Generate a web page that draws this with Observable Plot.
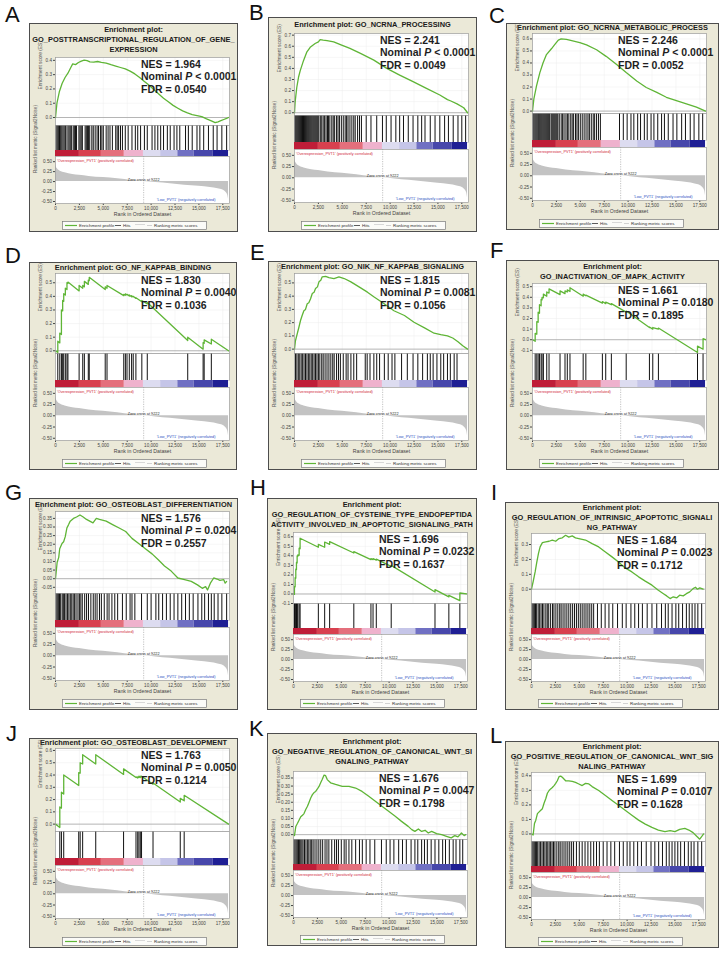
<!DOCTYPE html>
<html>
<head>
<meta charset="utf-8">
<script src="https://cdn.jsdelivr.net/npm/d3@7"></script>
<script src="https://cdn.jsdelivr.net/npm/@observablehq/plot@0.6"></script>
<style>
html,body{margin:0;padding:0;background:#fff;}
#root{position:relative;width:724px;height:956px;overflow:hidden;font-family:"Liberation Sans",Arial,Helvetica,sans-serif;}
.letter{position:absolute;font-size:22px;line-height:22px;color:#111;}
.panel{position:absolute;background:#ebe9d8;overflow:hidden;}
.panel .edge{position:absolute;left:0;top:0;right:0;bottom:0;border:1.3px solid #4d4d4d;pointer-events:none;z-index:5;}
.panel .title{position:absolute;left:0;right:0;top:0;font-weight:bold;font-size:7.4px;line-height:10px;color:#1a1a1a;}
.panel .title div{display:flex;justify-content:center;white-space:nowrap;}
.panel svg{overflow:visible;}
.stats{position:absolute;font-weight:bold;font-size:10.5px;line-height:12.7px;color:#1e1e1e;white-space:nowrap;z-index:3;}
</style>
</head>
<body>
<div id="root"></div>
<script>
// ---------------- DATA ----------------
const panelLetters = ["A","B","C","D","E","F","G","H","I","J","K","L"];
const panelTitles = [
  ["Enrichment plot:","GO_POSTTRANSCRIPTIONAL_REGULATION_OF_GENE_","EXPRESSION"],
  ["Enrichment plot: GO_NCRNA_PROCESSING"],
  ["Enrichment plot: GO_NCRNA_METABOLIC_PROCESS"],
  ["Enrichment plot: GO_NF_KAPPAB_BINDING"],
  ["Enrichment plot: GO_NIK_NF_KAPPAB_SIGNALING"],
  ["Enrichment plot:","GO_INACTIVATION_OF_MAPK_ACTIVITY"],
  ["Enrichment plot: GO_OSTEOBLAST_DIFFERENTIATION"],
  ["Enrichment plot:","GO_REGULATION_OF_CYSTEINE_TYPE_ENDOPEPTIDA","ACTIVITY_INVOLVED_IN_APOPTOTIC_SIGNALING_PATH"],
  ["Enrichment plot:","GO_REGULATION_OF_INTRINSIC_APOPTOTIC_SIGNALI","NG_PATHWAY"],
  ["Enrichment plot: GO_OSTEOBLAST_DEVELOPMENT"],
  ["Enrichment plot:","GO_NEGATIVE_REGULATION_OF_CANONICAL_WNT_SI","GNALING_PATHWAY"],
  ["Enrichment plot:","GO_POSITIVE_REGULATION_OF_CANONICAL_WNT_SIG","NALING_PATHWAY"]
];
const nesValues = ["1.964","2.241","2.246","1.830","1.815","1.661","1.576","1.696","1.684","1.763","1.676","1.699"];
const nomPValues = ["< 0.0001","< 0.0001","< 0.0001","= 0.0040","= 0.0081","= 0.0180","= 0.0204","= 0.0232","= 0.0023","= 0.0050","= 0.0047","= 0.0107"];
const fdrValues = ["0.0540","0.0049","0.0052","0.1036","0.1056","0.1895","0.2557","0.1637","0.1712","0.1214","0.1798","0.1628"];

const esTicks = [
  [0,0.1,0.2,0.3,0.4],
  [0,0.1,0.2,0.3,0.4,0.5,0.6,0.7],
  [0,0.1,0.2,0.3,0.4,0.5,0.6],
  [0,0.1,0.2,0.3,0.4,0.5],
  [0,0.1,0.2,0.3,0.4,0.5],
  [-0.1,0,0.1,0.2,0.3,0.4,0.5],
  [-0.05,0,0.05,0.1,0.15,0.2,0.25,0.3,0.35],
  [-0.1,0,0.1,0.2,0.3,0.4,0.5,0.6],
  [0,0.1,0.2,0.3],
  [0,0.1,0.2,0.3,0.4,0.5,0.6],
  [0,0.05,0.1,0.15,0.2,0.25,0.3,0.35],
  [0,0.1,0.2,0.3,0.4]
];
const esTickDecimals = [1,1,1,1,1,1,2,1,1,1,2,1];

const xTicks = [0,2500,5000,7500,10000,12500,15000,17500];
const metricTicks = [-0.5,-0.25,0,0.25,0.5];
const zeroCross = 9222;
const posLabel = "'Overexpression_PVT1' (positively correlated)";
const negLabel = "'Low_PVT1' (negatively correlated)";
const metricRank  = [0,60,200,500,1000,1800,2500,3500,5000,6500,8000,9222,10500,12000,13500,15000,16200,17000,17500,17800,18000,18100];
const metricValue = [0.45,0.38,0.32,0.26,0.22,0.18,0.16,0.13,0.10,0.07,0.03,0,-0.025,-0.055,-0.09,-0.12,-0.15,-0.18,-0.21,-0.26,-0.33,-0.45];
const barStart = [0,2500,4800,7200,9200,11000,12800,14500,16500];
const barEnd   = [2500,4800,7200,9200,11000,12800,14500,16500,18100];
const barColor = ["#bf1d38","#d8404f","#e46f7c","#efb2cd","#dddcf0","#c5c5e8","#7070c3","#4747ab","#1f1f94"];
const legendItems = ["Enrichment profile","Hits","Ranking metric scores"];

// running enrichment score, [rank, ES]
const esA = [[0,0],[150,0.10],[400,0.18],[700,0.24],[1000,0.28],[1300,0.31],[1600,0.35],[1800,0.375],[2100,0.37],[2400,0.385],[2700,0.395],[3000,0.402],[3300,0.398],[3600,0.39],[4000,0.387],[4400,0.392],[4800,0.386],[5300,0.381],[5800,0.37],[6300,0.36],[6800,0.35],[7300,0.34],[7800,0.325],[8300,0.305],[8800,0.28],[9300,0.252],[9800,0.225],[10300,0.195],[10800,0.165],[11300,0.135],[11800,0.11],[12300,0.085],[12800,0.065],[13300,0.046],[13800,0.032],[14300,0.02],[14800,0.013],[15300,0.006],[15800,-0.01],[16300,-0.024],[16700,-0.036],[17000,-0.03],[17300,-0.022],[17600,-0.014],[17900,-0.006],[18100,0]];
const esB = [[0,0],[70,0.10],[240,0.23],[420,0.32],[600,0.38],[940,0.47],[1300,0.55],[1640,0.59],[2160,0.625],[2500,0.64],[2680,0.66],[3000,0.655],[3400,0.65],[4100,0.64],[4800,0.615],[5800,0.58],[6900,0.535],[8300,0.475],[9650,0.40],[11000,0.34],[12400,0.28],[13800,0.22],[15200,0.16],[16000,0.118],[16300,0.108],[17000,0.08],[17700,0.045],[18100,0]];
const esC = [[0,0],[140,0.10],[420,0.21],[770,0.32],[1100,0.40],[1460,0.47],[2000,0.52],[2300,0.55],[2700,0.59],[3000,0.60],[3550,0.597],[4100,0.586],[4950,0.57],[5650,0.55],[6700,0.51],[7700,0.455],[8800,0.387],[9800,0.32],[10900,0.25],[11900,0.196],[13000,0.155],[14000,0.115],[15050,0.087],[16100,0.06],[17150,0.033],[18100,0]];
const esD = [[0,0],[240,-0.013],[240,0.07],[450,0.058],[450,0.13],[620,0.12],[620,0.30],[750,0.293],[750,0.37],[860,0.364],[860,0.42],[1030,0.41],[1030,0.46],[1200,0.45],[1200,0.50],[1300,0.495],[1300,0.505],[2470,0.44],[2470,0.48],[2850,0.46],[2850,0.48],[3020,0.47],[3020,0.51],[3430,0.488],[3430,0.52],[3530,0.515],[3530,0.54],[5200,0.45],[5200,0.47],[5390,0.46],[5390,0.48],[7140,0.405],[7140,0.415],[7310,0.408],[7310,0.418],[7480,0.41],[7480,0.415],[7720,0.402],[7720,0.41],[7960,0.397],[7960,0.405],[8130,0.396],[8130,0.40],[8410,0.385],[8410,0.39],[9030,0.36],[9030,0.37],[9600,0.345],[9600,0.355],[13830,0.075],[13830,0.10],[15440,0.012],[15440,0.06],[15550,0.055],[15550,0.08],[16300,0.05],[16300,0.085],[18100,0]];
const esE = [[0,0],[100,0.063],[280,0.114],[460,0.165],[630,0.216],[800,0.254],[980,0.29],[1150,0.30],[1330,0.343],[1500,0.35],[1680,0.38],[1860,0.42],[2050,0.43],[2200,0.457],[2400,0.47],[2560,0.508],[2750,0.52],[2900,0.546],[3260,0.55],[3600,0.54],[4130,0.533],[4650,0.546],[5200,0.533],[5900,0.508],[6750,0.47],[7630,0.43],[8330,0.393],[9380,0.343],[10400,0.29],[11500,0.254],[12500,0.203],[13600,0.16],[14600,0.12],[15300,0.109],[16000,0.10],[16550,0.084],[17100,0.056],[17600,0.025],[18100,0]];
const esF = [[0,0],[280,-0.015],[280,0.06],[450,0.052],[450,0.17],[590,0.165],[590,0.26],[730,0.25],[730,0.33],[900,0.32],[900,0.38],[1000,0.375],[1000,0.40],[1140,0.395],[1140,0.43],[1490,0.41],[1490,0.45],[1730,0.44],[1730,0.48],[2880,0.425],[2880,0.46],[3400,0.435],[3400,0.46],[3640,0.45],[3640,0.47],[3920,0.455],[3920,0.49],[5300,0.41],[5300,0.43],[5580,0.415],[5580,0.42],[7310,0.345],[7310,0.36],[7660,0.34],[7660,0.355],[8250,0.33],[8250,0.34],[9800,0.26],[9800,0.27],[12230,0.115],[12230,0.12],[12580,0.10],[12580,0.115],[13170,0.10],[13170,0.11],[17260,-0.12],[17260,-0.06],[17840,-0.09],[17840,0.01],[18100,0]];
const esG = [[0,0],[170,0.094],[340,0.124],[440,0.174],[680,0.204],[850,0.214],[1020,0.244],[1190,0.294],[1370,0.314],[1540,0.334],[1880,0.35],[2200,0.358],[2560,0.37],[2900,0.358],[3240,0.344],[3580,0.334],[3920,0.324],[4270,0.35],[4600,0.344],[5300,0.334],[5970,0.314],[6660,0.294],[7340,0.274],[8000,0.234],[8700,0.204],[9400,0.174],[10100,0.144],[10750,0.11],[11400,0.074],[12100,0.044],[12800,0.004],[13500,-0.006],[14200,-0.016],[14850,-0.036],[15350,-0.056],[15700,-0.046],[15900,-0.066],[16200,-0.026],[16550,0.004],[16900,-0.002],[17200,-0.01],[17600,-0.006],[17750,-0.026],[17900,-0.016]];
const esH = [[0,0],[100,-0.005],[100,0.08],[170,0.075],[170,0.17],[240,0.165],[240,0.26],[310,0.255],[310,0.33],[380,0.325],[380,0.40],[450,0.395],[450,0.41],[590,0.405],[590,0.48],[690,0.475],[690,0.585],[2600,0.49],[2600,0.52],[3260,0.49],[3260,0.545],[3780,0.52],[3780,0.55],[6310,0.43],[6310,0.445],[8100,0.36],[8100,0.37],[8320,0.36],[8320,0.37],[8660,0.355],[8660,0.365],[10220,0.29],[10220,0.30],[14800,0.02],[14800,0.045],[16250,-0.03],[16250,-0.015],[17400,-0.07],[17400,0.01],[18100,0]];
const esI = [[0,0],[170,0.05],[380,0.116],[550,0.18],[730,0.24],[900,0.284],[1140,0.313],[1490,0.318],[1840,0.322],[2180,0.33],[2530,0.322],[2880,0.34],[3220,0.345],[3570,0.362],[3900,0.35],[4260,0.358],[4600,0.345],[4950,0.34],[5650,0.33],[6340,0.306],[7030,0.284],[7730,0.25],[8420,0.217],[9100,0.183],[9800,0.143],[10500,0.116],[11200,0.083],[11900,0.054],[12600,0.027],[13270,-0.007],[13800,-0.03],[14140,-0.045],[14500,-0.063],[14830,-0.051],[15200,-0.058],[15500,-0.04],[15870,-0.045],[16200,-0.03],[16550,-0.018],[16900,0.004],[17150,0.013],[17350,0],[17600,0.009],[17950,0]];
const esJ = [[0,0],[450,-0.027],[450,0.14],[620,0.13],[620,0.26],[860,0.245],[860,0.40],[2430,0.315],[2430,0.42],[2580,0.415],[2580,0.50],[2840,0.49],[2840,0.565],[4210,0.49],[4210,0.565],[7120,0.405],[7120,0.45],[8420,0.38],[8420,0.385],[8600,0.375],[8600,0.385],[8730,0.38],[8730,0.39],[8870,0.38],[8870,0.39],[9000,0.385],[9000,0.39],[10200,0.325],[10200,0.335],[13050,0.18],[13050,0.21],[13460,0.19],[13460,0.235],[18100,0]];
const esK = [[0,0],[100,-0.006],[240,0.05],[420,0.07],[590,0.09],[760,0.11],[940,0.12],[1100,0.13],[1280,0.155],[1460,0.175],[1630,0.2],[1800,0.226],[1980,0.247],[2150,0.26],[2320,0.267],[2500,0.282],[2670,0.298],[2840,0.32],[3000,0.34],[3200,0.368],[3360,0.364],[3530,0.34],[3880,0.32],[4400,0.31],[5100,0.298],[5800,0.298],[6500,0.288],[7170,0.267],[7870,0.237],[8560,0.206],[9250,0.175],[9950,0.144],[10640,0.113],[11300,0.082],[12000,0.051],[12370,0.031],[12700,0.02],[13060,0.035],[13400,0.02],[13760,0.027],[14100,0.01],[14450,0.02],[14970,0.006],[15500,0],[16000,-0.01],[16500,-0.02],[16870,-0.006],[17200,-0.014],[17570,0.01],[17850,-0.006],[18000,0]];
const esL = [[0,0],[170,-0.007],[310,0.072],[450,0.095],[620,0.14],[800,0.152],[970,0.163],[1140,0.174],[1320,0.213],[1490,0.242],[1660,0.28],[1840,0.299],[2000,0.31],[2180,0.32],[2360,0.333],[2530,0.348],[2700,0.366],[2880,0.394],[3050,0.398],[3220,0.39],[3570,0.366],[3900,0.366],[4260,0.362],[4600,0.355],[4950,0.344],[5300,0.333],[5650,0.348],[6000,0.344],[6340,0.326],[7030,0.299],[7730,0.265],[8420,0.23],[9100,0.197],[9800,0.163],[10500,0.129],[11200,0.095],[11900,0.068],[12600,0.045],[13270,0.027],[13960,0.016],[14500,0.023],[15000,0.016],[15500,0.032],[16040,0.038],[16460,0.027],[16900,0.009],[17250,-0.014],[17600,-0.036],[17850,-0.014],[18000,0]];

// hit positions (rank of each gene-set member)
const hitsA = [60,180,300,420,540,660,780,900,1020,1100,1300,1420,1540,1660,1850,1970,2090,2200,2450,2570,2690,2810,3100,3220,3340,3460,3580,3800,3950,4150,4350,4500,4700,4850,5000,5300,5500,5700,5950,6300,6450,6600,6800,7000,7300,7600,8000,8350,8600,8900,9300,9600,10100,10400,10700,11000,11300,11700,12000,12400,12700,13000,13600,13900,14300,14800,15100,15500,16000,16500,16900,17400,17900];
const hitsB = [40,140,240,340,440,540,640,740,840,940,1040,1140,1240,1340,1440,1540,1640,1740,1840,1940,2040,2140,2240,2340,2440,2540,2700,2850,3000,3150,3300,3450,3550,3700,3900,4050,4200,4400,4550,4700,4900,5100,5300,5450,5600,5800,6000,6200,6350,6600,6800,7000,7500,8000,8600,9200,9600,10100,10600,11000,11400,11900,12400,12900,13300,13650,14200,14700,15200,15700,16100,16600,17100,17500,17900];
const hitsC = [50,160,270,380,490,600,700,800,900,1000,1100,1200,1300,1400,1500,1600,1700,1800,1950,2050,2150,2250,2350,2450,2550,2650,2800,3000,3150,3300,3500,3650,3800,4000,4150,4300,4500,4650,4800,5000,5200,5400,5600,5800,5950,6150,6350,6500,6700,6900,7100,9100,9500,9900,10300,10600,11000,11300,11700,12000,12400,12700,13100,13500,13800,14200,14700,15100,15600,16000,16500,16900,17400,17800];
const hitsD = [240,450,620,750,860,1030,1200,1300,2470,2850,3020,3430,3530,5200,5390,7140,7310,7480,7720,7960,8130,8410,9030,9600,13830,15440,15550,16300];
const hitsE = [100,250,400,550,700,850,1000,1150,1300,1450,1600,1750,1900,2050,2200,2350,2500,2650,2850,3000,3200,3400,3600,3800,4000,4150,4400,4600,4800,5100,5400,5600,5900,6200,6500,7400,7600,7900,8300,8600,8900,9400,9800,10200,10500,11200,11800,12400,12900,13400,13900,14200,14500,14900,15300,15600,16000,16300,16700,17000];
const hitsF = [280,450,590,730,900,1000,1140,1490,1730,2880,3400,3640,3920,5300,5580,7310,7660,8250,9800,12230,12580,13170,17260,17840];
const hitsG = [60,180,300,420,540,700,820,950,1100,1250,1400,1550,1700,1850,2000,2150,2350,2500,2650,2800,3050,3250,3450,3700,3950,4150,4350,4600,4800,5100,5400,5600,5900,6200,6500,7000,7400,7800,8000,8300,9000,9600,10000,10500,10800,11200,11600,12000,12400,12800,13200,13600,14000,14400,14900,15300,15600,16000,16300,16600,17000,17400,17900];
const hitsH = [100,170,240,310,380,450,590,690,2600,3260,3780,6310,8100,8320,8660,10220,14800,16250,17400];
const hitsI = [60,180,300,420,540,700,850,1000,1150,1300,1500,1650,1800,2000,2200,2350,2550,2750,2950,3100,3300,3500,3700,3900,4100,4300,4500,4700,4900,5100,5300,5500,5700,5900,6100,6300,6500,6900,7300,7700,8100,8500,9000,9500,9900,10400,10800,11200,11600,12100,12600,13100,13600,14000,14300,14700,15100,15400,15800,16200,16500,16800,17100,17400,17800];
const hitsJ = [450,620,860,2430,2580,2840,4210,7120,8420,8600,8730,8870,9000,10200,13050,13460];
const hitsK = [40,160,280,400,520,640,760,880,1000,1150,1300,1450,1600,1750,1900,2050,2250,2450,2650,2850,3050,3300,3500,3700,4000,4300,4500,4700,5000,5300,5500,5800,6100,6500,6900,7200,7600,8000,8500,9200,9700,10100,10500,11000,11400,11800,12300,12700,13000,13400,13700,14000,14400,14800,15200,15600,15900,16300,16700,17000,17400,17700];
const hitsL = [50,170,290,410,530,650,800,950,1100,1250,1400,1550,1700,1850,2000,2150,2300,2450,2650,2850,3000,3200,3400,3600,3800,4000,4200,4400,4700,5000,5300,5600,5900,6200,6500,6800,7100,7500,7900,8300,8700,9200,9600,10000,10300,10700,11100,11500,12000,12500,12900,13300,13700,14100,14400,14700,15000,15300,15600,16000,16400,16700,17000,17400,17800];

const esSeries = [esA,esB,esC,esD,esE,esF,esG,esH,esI,esJ,esK,esL];
const hitSeries = [hitsA,hitsB,hitsC,hitsD,hitsE,hitsF,hitsG,hitsH,hitsI,hitsJ,hitsK,hitsL];

// ---------------- LAYOUT (positions / scale domains) ----------------
const layout = [
  {x:29,y:23,w:209,h:209,esTop:34,t:3,dom:[-0.056,0.42]},
  {x:268,y:17,w:209,h:215,esTop:16,t:1,dom:[-0.025,0.715]},
  {x:506,y:23,w:213,h:207,esTop:10,t:1,dom:[-0.02,0.645]},
  {x:29,y:262,w:208,h:208,esTop:11,t:1,dom:[-0.02,0.568]},
  {x:268,y:261,w:209,h:209,esTop:12,t:1,dom:[-0.033,0.571]},
  {x:506,y:260,w:213,h:210,esTop:23,t:1,dom:[-0.13,0.53]},
  {x:29,y:498,w:209,h:212,esTop:13,t:1,dom:[-0.086,0.39]},
  {x:267,y:498,w:210,h:212,esTop:34,t:3,dom:[-0.1,0.645]},
  {x:505,y:502,w:214,h:208,esTop:31,t:3,dom:[-0.096,0.374]},
  {x:29,y:738,w:209,h:210,esTop:10,t:1,dom:[-0.06,0.616]},
  {x:267,y:733,w:210,h:213,esTop:38,t:3,dom:[-0.03,0.39]},
  {x:505,y:741,w:214,h:207,esTop:31,t:3,dom:[-0.052,0.423]}
];
const letterPos = [[5,4],[249,2],[489,5],[5,245],[250,242],[490,240],[5,482],[250,477],[491,482],[6,723],[249,718],[490,725]];
const tpl = {1:{esOff:117,hitsH:27,barH:7,metricH:53}, 3:{esOff:107,hitsH:25,barH:6,metricH:47}};
const XDOM = [0,18200];
const ML = 26, FRAME_RIGHT = 200;
const font = "'Liberation Sans', Arial, Helvetica, sans-serif";

// ---------------- RENDER ----------------
const root = document.getElementById("root");
const metricData = metricRank.map((r,i)=>({rank:r, value:metricValue[i]}));
const barData = barStart.map((s,i)=>({start:s, end:barEnd[i], color:barColor[i]}));

function place(el, left, top){ el.style.position="absolute"; el.style.left=left+"px"; el.style.top=top+"px"; return el; }

panelLetters.forEach((letter,i)=>{
  const L = layout[i], T = tpl[L.t];
  const lab = document.createElement("div"); lab.className="letter"; lab.textContent=letter;
  place(lab, letterPos[i][0], letterPos[i][1]); root.appendChild(lab);

  const panel = document.createElement("div"); panel.className="panel";
  place(panel, L.x, L.y); panel.style.width=L.w+"px"; panel.style.height=L.h+"px";
  root.appendChild(panel);

  // title
  const title = document.createElement("div"); title.className="title";
  title.style.paddingTop = Math.max(0,(L.esTop - panelTitles[i].length*10)/2) + "px";
  panelTitles[i].forEach(line=>{ const d=document.createElement("div"); const s=document.createElement("span"); s.textContent=line; d.appendChild(s); title.appendChild(d); });
  panel.appendChild(title);

  const mr = L.w - FRAME_RIGHT;
  const style = {background:"none", fontSize:"4.6px", fontFamily:font, color:"#444", overflow:"visible"};
  const dec = esTickDecimals[i];

  // ES plot
  const esBottom = L.h - T.esOff;
  const esH = esBottom - L.esTop;
  const es = Plot.plot({
    width:L.w, height:esH, marginLeft:ML, marginRight:mr, marginTop:0, marginBottom:0, style,
    x:{domain:XDOM, axis:null},
    y:{domain:L.dom, ticks:esTicks[i], tickFormat:d=>d.toFixed(dec), tickSize:2, tickPadding:1.5, label:null},
    marks:[
      Plot.frame({fill:"white"}),
      Plot.ruleY(esTicks[i], {stroke:"#ececec", strokeWidth:0.5}),
      Plot.ruleX(xTicks, {stroke:"#ececec", strokeWidth:0.5}),
      Plot.ruleY([0], {stroke:"#9a9a9a", strokeWidth:0.7}),
      Plot.line(esSeries[i], {x:d=>d[0], y:d=>d[1], stroke:"#5fb536", strokeWidth:1.3}),
      Plot.text(["Enrichment score (ES)"], {text:d=>d, frameAnchor:"left", rotate:-90, dx:-15.5, dy:-2, fontSize:4.8, fill:"#555"}),
      Plot.frame({stroke:"#9c9c9c", strokeWidth:0.7})
    ]
  });
  panel.appendChild(place(es, 0, L.esTop));

  // hits
  const hits = Plot.plot({
    width:L.w, height:T.hitsH, marginLeft:ML, marginRight:mr, marginTop:0, marginBottom:0, style,
    x:{domain:XDOM, axis:null},
    marks:[
      Plot.frame({fill:"white"}),
      Plot.ruleX(hitSeries[i], {x:d=>d, stroke:"#050505", strokeWidth:0.95}),
      Plot.frame({stroke:"#9c9c9c", strokeWidth:0.7})
    ]
  });
  panel.appendChild(place(hits, 0, esBottom));

  // colour bar
  const bar = Plot.plot({
    width:L.w, height:T.barH, marginLeft:ML, marginRight:mr, marginTop:0, marginBottom:0, style,
    x:{domain:XDOM, axis:null},
    color:{type:"identity"},
    marks:[
      Plot.frame({fill:"white"}),
      Plot.rect(barData, {x1:"start", x2:"end", fill:"color"})
    ]
  });
  panel.appendChild(place(bar, 0, esBottom + T.hitsH));

  // ranked list metric
  const metric = Plot.plot({
    width:L.w, height:T.metricH + 22, marginLeft:ML, marginRight:mr, marginTop:0, marginBottom:22, style,
    x:{domain:XDOM, ticks:xTicks, tickFormat:d3.format(","), tickSize:2, tickPadding:1.5, label:null},
    y:{domain:[-0.55,0.63], ticks:metricTicks, tickFormat:d=>d.toFixed(2), tickSize:2, tickPadding:1.5, label:null},
    marks:[
      Plot.frame({fill:"white"}),
      Plot.areaY(metricData, {x:"rank", y:"value", fill:"#c3c3c3", curve:"monotone-x"}),
      Plot.ruleX([zeroCross], {x:d=>d, stroke:"#9a9a9a", strokeWidth:0.6, strokeDasharray:"1.2,1.2"}),
      Plot.text([zeroCross], {x:d=>d, y:()=>0, text:d=>"Zero cross at "+d, dy:-2.2, fontSize:3.8, fill:"#222"}),
      Plot.text([posLabel], {text:d=>d, frameAnchor:"top-left", dx:1.5, dy:3, textAnchor:"start", fontSize:3.8, fill:"#d0283a"}),
      Plot.text([negLabel], {text:d=>d, frameAnchor:"bottom-right", dx:-14, dy:-2.5, textAnchor:"end", fontSize:3.8, fill:"#2c4fbf"}),
      Plot.text(["Rank in Ordered Dataset"], {text:d=>d, frameAnchor:"bottom", dy:12, fontSize:5.2, fill:"#444"}),
      Plot.text(["Ranked list metric (Signal2Noise)"], {text:d=>d, frameAnchor:"left", rotate:-90, dx:-20, dy:-7, fontSize:4.6, fill:"#555"}),
      Plot.frame({stroke:"#9c9c9c", strokeWidth:0.7})
    ]
  });
  panel.appendChild(place(metric, 0, esBottom + T.hitsH + T.barH));

  // legend
  const lg = d3.create("svg").attr("width",145).attr("height",9).style("overflow","visible");
  lg.append("rect").attr("x",0.4).attr("y",0.4).attr("width",144.2).attr("height",8.2).attr("fill","#fbfbf8").attr("stroke","#7a7a7a").attr("stroke-width",0.7);
  lg.append("line").attr("x1",3).attr("x2",15).attr("y1",4.5).attr("y2",4.5).attr("stroke","#5fb536").attr("stroke-width",1.2);
  lg.append("line").attr("x1",53).attr("x2",59).attr("y1",4.5).attr("y2",4.5).attr("stroke","#333").attr("stroke-width",0.8);
  lg.append("line").attr("x1",73).attr("x2",83).attr("y1",3.5).attr("y2",3.5).attr("stroke","#cfcfcf").attr("stroke-width",0.8);
  lg.append("line").attr("x1",85).attr("x2",90).attr("y1",4.5).attr("y2",4.5).attr("stroke","#c8c8c8").attr("stroke-width",0.8);
  [[17,legendItems[0]],[61,legendItems[1]],[92,legendItems[2]]].forEach(([x,t])=>{
    lg.append("text").attr("x",x).attr("y",4.6).attr("dominant-baseline","central").attr("font-size",4.4).attr("font-family",font).attr("fill","#333").text(t);
  });
  panel.appendChild(place(lg.node(), 33, L.h - 11));

  // stats
  const st = document.createElement("div"); st.className="stats";
  st.innerHTML = "NES = "+nesValues[i]+"<br>Nominal <i>P</i> "+nomPValues[i].replace("<","&lt;")+"<br>FDR = "+fdrValues[i];
  panel.appendChild(place(st, 112, L.esTop + 0.5));

  const edge = document.createElement("div"); edge.className="edge"; panel.appendChild(edge);
});
</script>
</body>
</html>
